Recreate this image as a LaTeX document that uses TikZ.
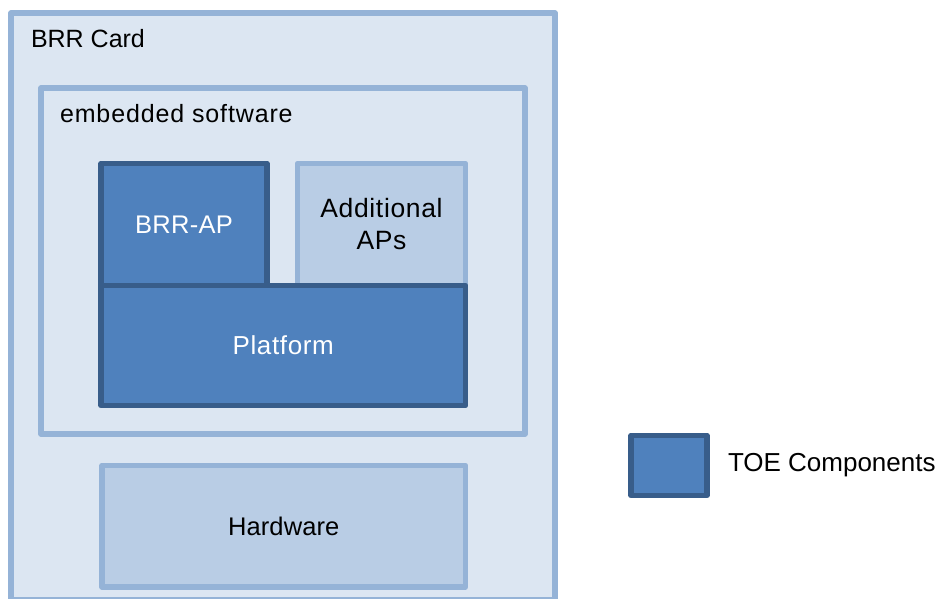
\documentclass[tikz,border=0pt]{standalone}
\usepackage{fontspec}
\setmainfont{Liberation Sans}
\definecolor{cardfill}{HTML}{DCE6F2}
\definecolor{cardline}{HTML}{95B3D7}
\definecolor{lightfill}{HTML}{B9CDE5}
\definecolor{toefill}{HTML}{4F81BD}
\definecolor{toeline}{HTML}{385D8A}
\newcommand{\txt}[2]{\fontsize{#1}{32}\selectfont\addfontfeature{LetterSpace=#2}}
\tikzset{
  frame/.style={draw=cardline, fill=cardfill, line width=5.5pt, line join=round, rectangle, anchor=north west, inner sep=0pt, outer sep=0pt},
  lightbox/.style={draw=cardline, fill=lightfill, line width=5.5pt, line join=round, rectangle, anchor=north west, inner sep=0pt, outer sep=0pt, align=center, text=black},
  toebox/.style={draw=toeline, fill=toefill, line width=5.5pt, line join=round, rectangle, anchor=north west, inner sep=0pt, outer sep=0pt, align=center, text=white},
  lbl/.style={anchor=base west, inner sep=0pt, outer sep=0pt, text=black}
}
\begin{document}
\begin{tikzpicture}[x=1pt,y=-1pt,font=\fontsize{25}{32}\selectfont]
\useasboundingbox (0,0) rectangle (938,599);
\clip (0,0) rectangle (938,599);
\fill[white] (0,0) rectangle (938,599);
\node[frame, minimum width=544pt, minimum height=587pt] (card) at (11,13) {};
\node[lbl] (cardlbl) at (31,48) {BRR Card};
\node[frame, minimum width=484pt, minimum height=346pt] (emb) at (41,88) {};
\node[lbl, font=\txt{25}{3.5}] (emblbl) at (60,123) {embedded software};
\node[toebox, minimum width=166pt, minimum height=122pt, font=\txt{25.5}{1}] (ap) at (101,163.5) {BRR-AP};
\node[lightbox, minimum width=168pt, minimum height=122pt, font=\txt{26.5}{2.5}] (addap) at (297.5,163.5) {Additional\\APs};
\node[toebox, minimum width=364.5pt, minimum height=120pt, font=\txt{26}{2.5}] (plat) at (101,285.5) {Platform};
\node[lightbox, minimum width=363.5pt, minimum height=121.5pt, font=\txt{25.5}{0.5}] (hw) at (102,465.5) {Hardware};
\node[toebox, minimum width=76pt, minimum height=60pt] (leg) at (631,435.5) {};
\node[lbl, font=\txt{26}{0}] (leglbl) at (728,471) {TOE Components};
\end{tikzpicture}
\end{document}
